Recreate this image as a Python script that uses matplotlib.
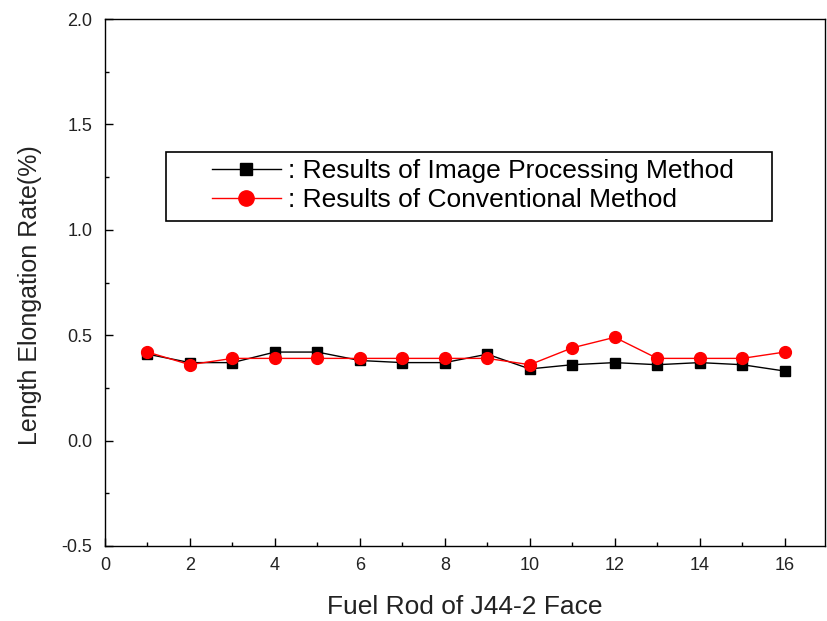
import matplotlib
matplotlib.use("Agg")
import matplotlib.pyplot as plt
from matplotlib.ticker import MultipleLocator, FormatStrFormatter
from matplotlib.patches import Rectangle

rods = list(range(1, 17))
image_processing = [0.41, 0.37, 0.37, 0.42, 0.42, 0.38, 0.37, 0.37, 0.41, 0.34, 0.36, 0.37, 0.36, 0.37, 0.36, 0.33]
conventional = [0.42, 0.36, 0.39, 0.39, 0.39, 0.39, 0.39, 0.39, 0.39, 0.36, 0.44, 0.49, 0.39, 0.39, 0.39, 0.42]

plt.rcParams['font.family'] = ['Liberation Sans', 'DejaVu Sans']

W, H = 827, 621
fig = plt.figure(figsize=(W/100, H/100), dpi=100)
ax = fig.add_axes([105/W, 1-546/H, (825-105)/W, (546-19)/H])

ax.plot(rods, image_processing, color='black', marker='s', markersize=7.5, linewidth=1.0,
        label=': Results of Image Processing Method')
ax.plot(rods, conventional, color='red', marker='o', markersize=8.5, linewidth=1.0,
        label=': Results of Conventional Method')

ax.set_xlim(0, 16.95)
ax.set_ylim(-0.5, 2.0)
ax.xaxis.set_major_locator(MultipleLocator(2))
ax.xaxis.set_minor_locator(MultipleLocator(1))
ax.yaxis.set_major_locator(MultipleLocator(0.5))
ax.yaxis.set_minor_locator(MultipleLocator(0.25))
ax.yaxis.set_major_formatter(FormatStrFormatter('%.1f'))
ax.tick_params(which='major', direction='in', length=6, width=1, labelsize=13,
               colors='black', labelcolor='#222222')
ax.tick_params(which='minor', direction='in', length=3, width=1)
ax.tick_params(axis='x', pad=8)
ax.tick_params(axis='y', pad=9)
for s in ax.spines.values():
    s.set_linewidth(1.0)

ax.set_xlabel('Fuel Rod of J44-2 Face', fontsize=19, labelpad=15, color='#222222')
ax.set_ylabel('Length Elongation Rate(%)', fontsize=18, color='#222222')
ax.yaxis.set_label_coords((42-105)/720, (546-295)/527)

# legend (frame drawn separately to reproduce the wide box)
leg = ax.legend(loc='upper left', bbox_to_anchor=(212/W, 1-159/H),
                bbox_transform=fig.transFigure,
                fontsize=19, frameon=False,
                handlelength=2.6, borderpad=0, labelspacing=0.18, handletextpad=0.27,
                borderaxespad=0)
leg.legend_handles[0].set_markersize(8.5)
leg.legend_handles[1].set_markersize(11)
fig.patches.append(Rectangle((166/W, 1-221/H), (772-166)/W, (221-152)/H,
                             transform=fig.transFigure, fill=False,
                             edgecolor='black', linewidth=1.2, zorder=5))

fig.savefig('out.png', dpi=100)
